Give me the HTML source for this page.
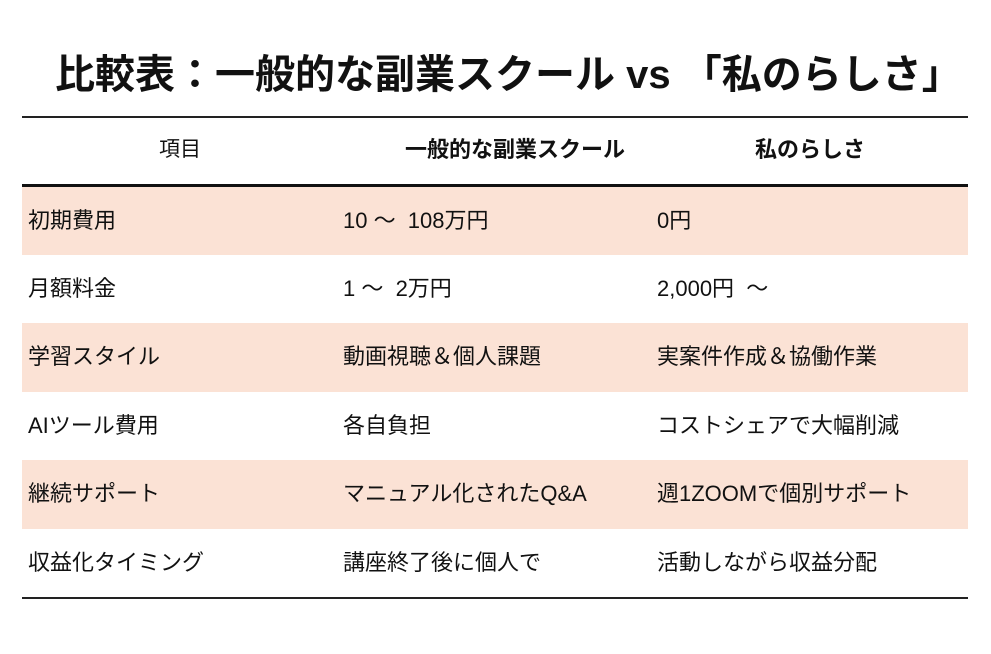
<!DOCTYPE html>
<html><head><meta charset="utf-8"><style>
body{margin:0;width:991px;height:654px;background:#fff;font-family:"Liberation Sans","Noto Sans CJK JP",sans-serif;color:#111;position:relative;overflow:hidden}
.title{position:absolute;left:55px;top:48px;font-size:40px;font-weight:bold;line-height:54px;white-space:pre}
.tbl{position:absolute;left:22px;top:116px;width:946px}
.row{position:absolute;left:0;width:946px;height:68px}
.c{position:absolute;top:0;line-height:68px;font-size:22px;white-space:pre}
.c1{left:6px}.c2{left:321px}.c3{left:635px}
.pink{background:#fbe2d5}
</style></head><body>
<div class="title">比較表：一般的な副業スクール vs 「私のらしさ」</div>
<div class="tbl">
<div style="position:absolute;left:0;top:0;width:946px;height:2px;background:#222"></div>
<div class="row" style="top:0px">
<div class="c" style="left:0;width:316px;text-align:center;font-size:21px">項目</div>
<div class="c" style="left:316px;width:354px;text-align:center;font-weight:bold">一般的な副業スクール</div>
<div class="c" style="left:630px;width:316px;text-align:center;font-weight:bold">私のらしさ</div>
</div>
<div style="position:absolute;left:0;top:68px;width:946px;height:3px;background:#111"></div>
<div class="row pink" style="top:71px"><div class="c c1">初期費用</div><div class="c c2">10 ～  108万円</div><div class="c c3">0円</div></div>
<div class="row" style="top:139px"><div class="c c1">月額料金</div><div class="c c2">1 ～  2万円</div><div class="c c3">2,000円  ～</div></div>
<div class="row pink" style="top:207px;height:69px"><div class="c c1">学習スタイル</div><div class="c c2">動画視聴＆個人課題</div><div class="c c3">実案件作成＆協働作業</div></div>
<div class="row" style="top:276px"><div class="c c1">AIツール費用</div><div class="c c2">各自負担</div><div class="c c3">コストシェアで大幅削減</div></div>
<div class="row pink" style="top:344px;height:69px"><div class="c c1">継続サポート</div><div class="c c2">マニュアル化されたQ&amp;A</div><div class="c c3">週1ZOOMで個別サポート</div></div>
<div class="row" style="top:413px"><div class="c c1">収益化タイミング</div><div class="c c2">講座終了後に個人で</div><div class="c c3">活動しながら収益分配</div></div>
<div style="position:absolute;left:0;top:481px;width:946px;height:2px;background:#222"></div>
</div>
</body></html>
